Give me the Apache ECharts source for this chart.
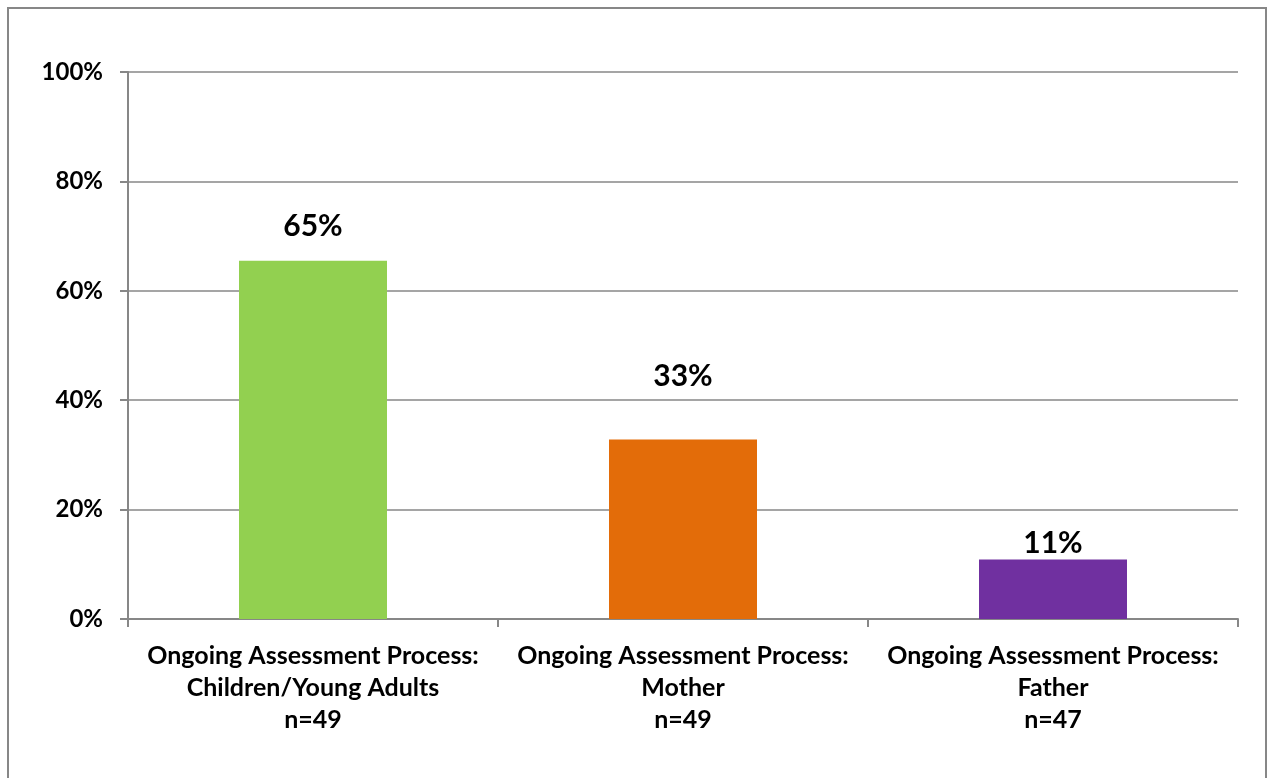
<!DOCTYPE html>
<html>
<head>
<meta charset="utf-8">
<script src="https://cdn.jsdelivr.net/npm/echarts@6/dist/echarts.min.js"></script>
<style>
  html, body { margin: 0; padding: 0; background: #fff; }
  #chart { width: 1268px; height: 778px; }
</style>
</head>
<body>
<div id="chart"></div>
<script>
// values
const categories = [
  'Ongoing Assessment Process:\nChildren/Young Adults\nn=49',
  'Ongoing Assessment Process:\nMother\nn=49',
  'Ongoing Assessment Process:\nFather\nn=47'
]
const values = [65.5, 32.8, 10.9]
const valueLabels = ['65%', '33%', '11%']
const barColors = ['#92D050', '#E36C09', '#7030A0']
// labels were hand placed in the original, so nudge each one
const labelOffsets = [[0, -14], [0, -43], [0, 4]]

const font = 'Lato, "Open Sans", sans-serif'
const gray = '#878787'

const myChart = echarts.init(document.getElementById('chart'))
myChart.setOption({
  animation: false,
  graphic: [{
    type: 'rect',
    shape: { x: 8, y: 8, width: 1258, height: 790 },
    style: { fill: 'none', stroke: gray, lineWidth: 2 }
  }],
  grid: { left: 128, right: 30, top: 72, bottom: 159 },
  xAxis: {
    type: 'category',
    data: categories,
    axisLine: { lineStyle: { color: gray, width: 2 } },
    axisTick: { show: true, length: 8, lineStyle: { color: gray, width: 2 } },
    axisLabel: {
      interval: 0,
      hideOverlap: false,
      margin: 21,
      color: '#000',
      fontFamily: font,
      fontWeight: 'bold',
      fontSize: 25,
      lineHeight: 32,
      align: 'center'
    }
  },
  yAxis: {
    type: 'value',
    min: 0,
    max: 100,
    interval: 20,
    axisLine: { show: true, lineStyle: { color: gray, width: 2 } },
    axisTick: { show: true, length: 8, inside: false, lineStyle: { color: gray, width: 2 } },
    splitLine: { lineStyle: { color: gray, width: 1.5 } },
    axisLabel: {
      margin: 25,
      color: '#000',
      fontFamily: font,
      fontWeight: 'bold',
      fontSize: 24,
      formatter: '{value}%'
    }
  },
  series: [{
    type: 'bar',
    barWidth: '40%',
    data: values.map((v, i) => ({
      value: v,
      itemStyle: { color: barColors[i] },
      label: {
        show: true,
        position: 'top',
        distance: 5,
        offset: labelOffsets[i],
        formatter: valueLabels[i],
        color: '#000',
        fontFamily: font,
        fontWeight: 'bold',
        fontSize: 30
      }
    }))
  }]
})
</script>
</body>
</html>
